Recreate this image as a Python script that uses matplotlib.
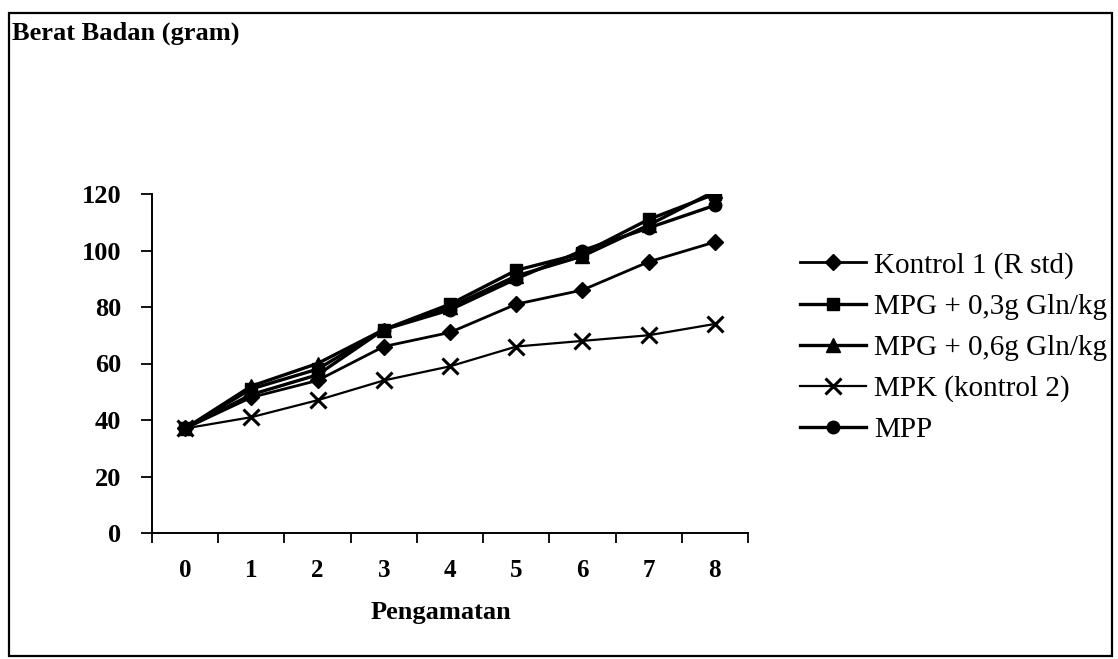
import matplotlib
matplotlib.use("Agg")
import matplotlib.pyplot as plt
from matplotlib.patches import Rectangle

plt.rcParams["font.family"] = ["Liberation Serif", "DejaVu Serif"]

# data
pengamatan = [0, 1, 2, 3, 4, 5, 6, 7, 8]
kontrol1 = [37, 48, 54, 66, 71, 81, 86, 96, 103]
mpg_03 = [37, 51, 58, 72, 81, 93, 99, 111, 120]
mpg_06 = [37, 52, 60, 72, 80, 91, 98, 109, 121]
mpk = [37, 41, 47, 54, 59, 66, 68, 70, 74]
mpp = [37, 49, 56, 72, 79, 90, 100, 108, 116]

series = [
    ("Kontrol 1 (R std)", kontrol1, "D", 8.5, 2.0),
    ("MPG + 0,3g Gln/kg", mpg_03, "s", 9, 2.4),
    ("MPG + 0,6g Gln/kg", mpg_06, "^", 10, 2.4),
    ("MPK (kontrol 2)", mpk, "x", 11, 1.6),
    ("MPP", mpp, "o", 9, 2.4),
]

W, H = 1118, 659
fig = plt.figure(figsize=(W / 100, H / 100), dpi=100)
# plot area in pixel terms: x 152..748, y 194..533
ax = fig.add_axes([152 / W, 1 - 533 / H, 596 / W, 339 / H])

handles = []
for label, vals, mk, ms, lw in series:
    h, = ax.plot(pengamatan, vals, color="black", marker=mk, markersize=ms,
                 linewidth=lw, markeredgewidth=2.2 if mk == "x" else 1.0,
                 label=label)
    handles.append(h)

ax.set_xlim(-0.5, 8.5)
ax.set_ylim(0, 120)
ax.set_yticks([0, 20, 40, 60, 80, 100, 120])
ax.set_xticks([i - 0.5 for i in range(10)])
ax.set_xticklabels([])
ax.set_xticks(pengamatan, minor=True)
ax.set_xticklabels([str(p) for p in pengamatan], minor=True)
ax.tick_params(axis="x", which="major", direction="out", length=7, width=1.3)
ax.tick_params(axis="x", which="minor", length=0, pad=19, labelsize=18)
ax.tick_params(axis="y", direction="out", length=8, width=1.3, pad=14, labelsize=19)
for t in ax.get_xticklabels(minor=True) + ax.get_yticklabels():
    t.set_fontweight("bold")
for s in ["top", "right"]:
    ax.spines[s].set_visible(False)
for s in ["left", "bottom"]:
    ax.spines[s].set_linewidth(1.4)

ax.set_xlabel("Pengamatan", fontsize=19, fontweight="bold", va="center")
ax.xaxis.set_label_coords((441 - 152) / 596, (533 - 612) / 339)

fig.text(12 / W, 1 - 33 / H, "Berat Badan (gram)", fontsize=19,
         fontweight="bold", va="center", ha="left")

fig.legend(handles=handles, loc="upper left",
           bbox_to_anchor=(800 / W, 1 - 252 / H),
           frameon=False, fontsize=21, handlelength=2.25, handletextpad=0.3,
           labelspacing=0.5, borderaxespad=0, borderpad=0)

fig.patches.append(Rectangle((9 / W, 1 - 656 / H), 1103 / W, 643 / H,
                             transform=fig.transFigure, fill=False,
                             edgecolor="black", linewidth=1.6))

fig.savefig("out.png", dpi=100)
